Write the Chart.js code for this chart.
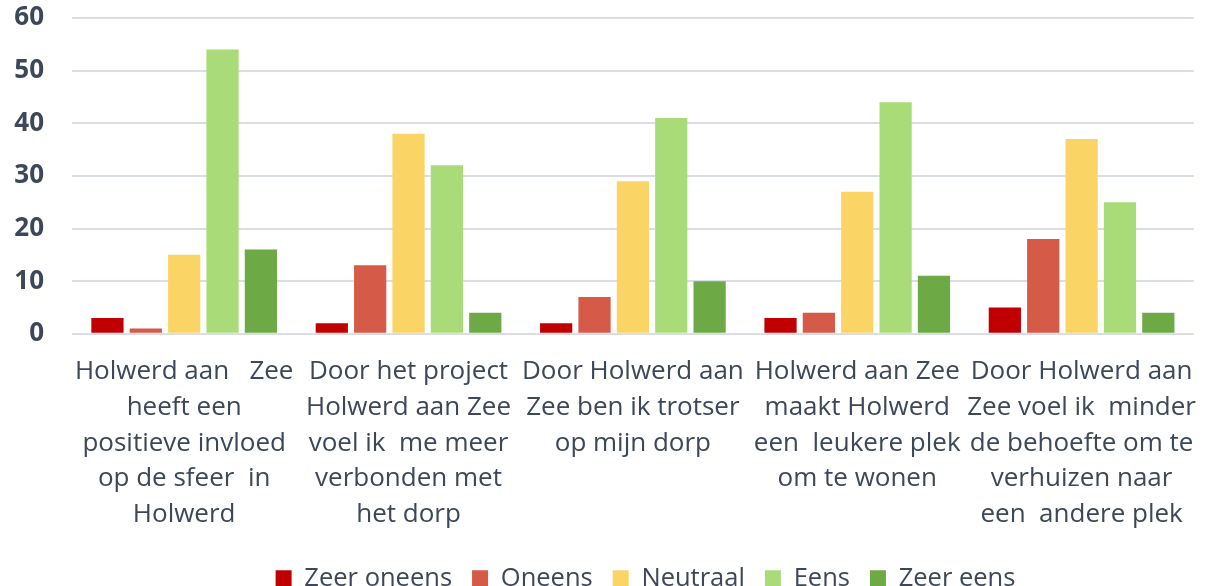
<!DOCTYPE html>
<html>
<head>
<meta charset="utf-8">
<script src="https://cdn.jsdelivr.net/npm/chart.js@4/dist/chart.umd.min.js"></script>
<style>
html,body{margin:0;padding:0;background:#fff;}
#wrap{width:1209px;height:586px;position:relative;}
</style>
</head>
<body>
<div id="wrap"><canvas id="c" width="1209" height="586"></canvas></div>
<script>
const categories = [
  ["Holwerd aan   Zee","heeft een","positieve invloed","op de sfeer  in","Holwerd"],
  ["Door het project","Holwerd aan Zee","voel ik  me meer","verbonden met","het dorp"],
  ["Door Holwerd aan","Zee ben ik trotser","op mijn dorp"],
  ["Holwerd aan Zee","maakt Holwerd","een  leukere plek","om te wonen"],
  ["Door Holwerd aan","Zee voel ik  minder","de behoefte om te","verhuizen naar","een  andere plek"]
];
const seriesNames = ["Zeer oneens","Oneens","Neutraal","Eens","Zeer eens"];
const zeerOneens = [3, 2, 2, 3, 5];
const oneens = [1, 13, 7, 4, 18];
const neutraal = [15, 38, 29, 27, 37];
const eens = [54, 32, 41, 44, 25];
const zeerEens = [16, 4, 10, 11, 4];
const yTicks = [0, 10, 20, 30, 40, 50, 60];

const colors = ["#C00000","#D55A47","#FAD566","#A9DC78","#6DAA46"];
const values = [zeerOneens, oneens, neutraal, eens, zeerEens];

const textColor = "#3D4759";
const fontFam = "'Open Sans', Lato, sans-serif";

const legendShift = {
  id: 'legendShift',
  afterLayout(chart) {
    if (chart.legend) { chart.legend.left += 42; chart.legend.right += 42; }
  }
};

new Chart(document.getElementById('c'), {
  type: 'bar',
  plugins: [legendShift],
  data: {
    labels: categories,
    datasets: seriesNames.map((n, i) => ({
      label: n,
      data: values[i],
      backgroundColor: colors[i],
      borderWidth: 0,
      categoryPercentage: 0.855,
      barPercentage: 0.84
    }))
  },
  options: {
    responsive: false,
    animation: false,
    layout: { padding: { left: 8, right: 10, top: 18, bottom: -15 } },
    plugins: {
      legend: {
        position: 'bottom',
        labels: {
          color: textColor,
          font: { family: fontFam, size: 25.5 },
          boxWidth: 16, boxHeight: 16,
          padding: 20
        }
      },
      tooltip: { enabled: false }
    },
    scales: {
      x: {
        grid: { display: false },
        border: { display: false },
        afterFit: (s) => { s.height += 1; },
        ticks: {
          color: textColor,
          font: { family: fontFam, size: 26, lineHeight: 1.375 },
          maxRotation: 0, autoSkip: false,
          padding: 12
        }
      },
      y: {
        min: 0, max: 60,
        afterBuildTicks: (ax) => { ax.ticks = yTicks.map(v => ({ value: v })); },
        afterFit: (s) => { s.width = 64; s.paddingTop = 0; s.paddingBottom = 0; },
        grid: { color: '#D9DDE6', lineWidth: 2, drawTicks: false },
        border: { display: false },
        ticks: {
          color: textColor,
          font: { family: fontFam, size: 26, weight: 'bold' },
          padding: 28
        }
      }
    }
  }
});
</script>
</body>
</html>
